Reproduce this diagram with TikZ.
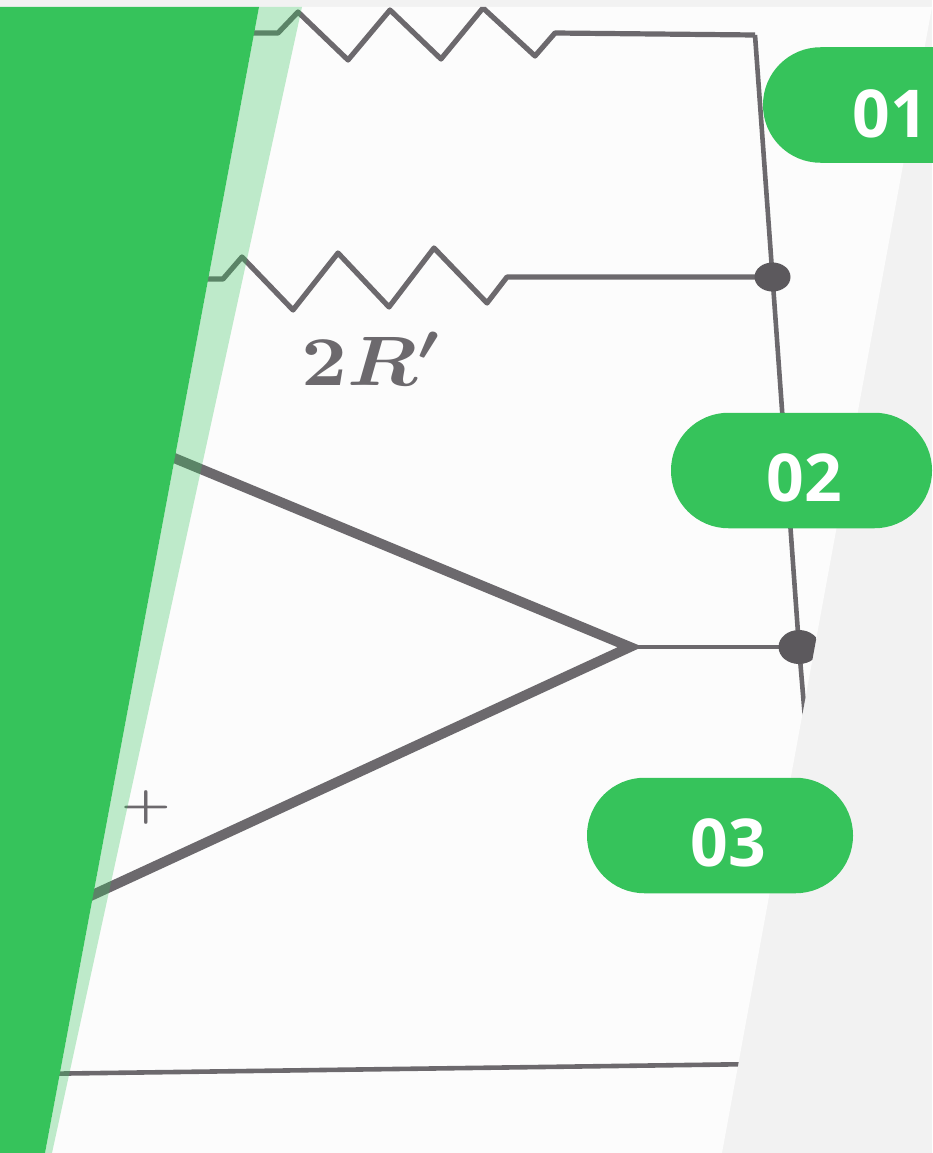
\documentclass[tikz,border=0pt]{standalone}
\usepackage{fontspec}
\usetikzlibrary{shapes.geometric}
\setmainfont{Open Sans}
\definecolor{slidecolor0001}{RGB}{54,195,91}
\definecolor{slidecolor0002}{RGB}{242,242,242}
\definecolor{slidecolor0003}{RGB}{252,252,252}
\definecolor{slidecolor0004}{RGB}{108,105,109}
\begin{document}
\begin{tikzpicture}[x=1pt,y=-1pt
            ,wire/.style={color=slidecolor0004,line width=5.2pt,line join=round}
            ,thinwire/.style={color=slidecolor0004,line width=4.6pt,line join=round}
            ,ampwire/.style={color=slidecolor0004,line width=10pt,line join=miter,miter limit=10}
            ,jct/.style={ellipse,fill=slidecolor0004!85!black,inner sep=0pt,minimum width=36pt,minimum height=29pt}
            ,pill/.style={rectangle,rounded corners=57.5pt,fill=slidecolor0001,inner sep=0pt,minimum height=115.5pt}
            ,pillnum/.style={color=white,font=\bfseries\fontsize{66}{66}\selectfont,inner sep=0pt}
            ,scan/.style={color=slidecolor0004,inner sep=0pt,transform shape,font=\boldmath}
        ]
        \useasboundingbox (0,0) rectangle (932,1153);
        \fill[slidecolor0002] (0,0) rectangle (932,1153);
        \fill[slidecolor0003] (0,7) -- (932,7) -- (722,1153) -- (0,1153) -- cycle;
        \begin{scope}
            \clip (0,7) -- (932,7) -- (722,1153) -- (0,1153) -- cycle;
            \coordinate (jctup) at (772.5,277);
            \coordinate (jctlow) at (799,647);
            % upper resistor
            \coordinate (topstart) at (200,33);
            \coordinate (topend) at (555,33);
            \coordinate (topcorner) at (755,35);
            \draw[wire] (topstart) -- (278,33) -- (298,12) -- (348,60) -- (390,10) -- (441,59) -- (483,8) -- (535,56) -- (topend) -- (topcorner);
            % lower resistor
            \coordinate (midstart) at (180,279);
            \coordinate (midend) at (507,277);
            \draw[wire] (midstart) -- (223,279) -- (242,257) -- (293,310) -- (338,253) -- (389,307) -- (434,248) -- (487,303) -- (midend) -- (jctup);
            % right rail
            \coordinate (railend) at (806,730);
            \draw[thinwire] (topcorner) -- (jctup) -- (jctlow) -- (railend);
            % amplifier
            \coordinate (ampup) at (150,448);
            \coordinate (amplow) at (60,910);
            \coordinate (amptip) at (630,647);
            \draw[ampwire] (ampup) -- (amptip) -- (amplow);
            \draw[thinwire] (amptip) -- (jctlow);
            % ground line
            \coordinate (gndstart) at (30,1074);
            \coordinate (gndend) at (760,1064);
            \draw[thinwire] (gndstart) -- (gndend);
            \node[jct] (dotup) at (jctup) {};
            \node[jct,minimum width=41pt,minimum height=34pt] (dotlow) at (jctlow) {};
        \end{scope}
        \node[scan,xscale=8,yscale=7] (lblres) at (372.5,359) {$2R'$};
        \node[scan,xscale=5.6,yscale=4.4] (lblplus) at (146,807) {$+$};
        \fill[slidecolor0001,opacity=0.31] (259,7) -- (302,7) -- (52,1153) -- (45,1153) -- cycle;
        \fill[slidecolor0001] (0,7) -- (259,7) -- (45,1153) -- (0,1153) -- cycle;
        \node[pill,minimum width=252pt] (pill01) at (889,105) {};
        \node[pill,minimum width=261pt] (pill02) at (801.5,470.5) {};
        \node[pill,minimum width=266pt] (pill03) at (720,835.5) {};
        \node[pillnum] (num01) at (890,113.5) {01};
        \node[pillnum] (num02) at (804,478) {02};
        \node[pillnum] (num03) at (728,843) {03};
    \end{tikzpicture}
\end{document}
